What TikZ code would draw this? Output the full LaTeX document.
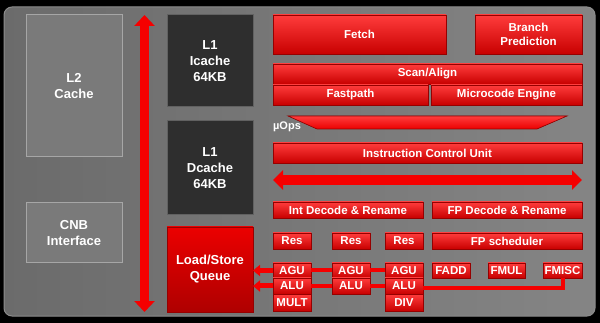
\documentclass[tikz,border=0pt]{standalone}
\usepackage{fontspec}
\setmainfont{Liberation Sans}
\usetikzlibrary{arrows.meta,positioning,calc}
\definecolor{rojoBloque}{RGB}{235,0,0}
\definecolor{rojoBorde}{RGB}{150,0,0}
\definecolor{rojoClaro}{RGB}{255,60,60}
\definecolor{rojoCola}{RGB}{205,0,0}
\definecolor{rojoBus}{RGB}{245,0,0}
\tikzset{
  rblock/.style={rectangle, draw=rojoBorde, line width=0.8pt,
                 top color=rojoClaro, middle color=rojoBloque, bottom color=rojoBloque!85!black,
                 text=white, font=\bfseries\fontsize{11.5}{13}\selectfont,
                 inner sep=0pt, outer sep=0pt, align=center, anchor=north west},
  gblock/.style={rectangle, draw=black!35, line width=1pt, fill=black!52,
                 text=white, font=\bfseries\fontsize{13}{16}\selectfont,
                 inner sep=0pt, outer sep=0pt, align=center, anchor=north west},
  dblock/.style={gblock, draw=black!62, fill=black!82},
  qblock/.style={rblock, top color=rojoBloque, middle color=rojoCola, bottom color=rojoCola!85!black,
                 font=\bfseries\fontsize{13}{16}\selectfont},
  bus/.style={draw=rojoBus, line width=9pt,
              {Triangle[width=20pt,length=11pt]}-{Triangle[width=20pt,length=11pt]}},
  toqueue/.style={draw=rojoBus, line width=5pt, -{Triangle[width=11pt,length=7pt]}},
  link/.style={draw=rojoBus, line width=4pt},
}
\begin{document}
\begin{tikzpicture}[x=1pt, y=-1pt, node distance=0pt]
  % fondo y panel
  \fill[black] (0,0) rectangle (600,323);
  \useasboundingbox (0,0) rectangle (600,323);
  \path[rounded corners=8pt, left color=black!58, middle color=black!80, right color=black!48,
        draw=black!45, line width=1pt] (4,7) rectangle (595,316);

  % caches e interfaz
  \node[gblock, minimum width=96pt, minimum height=142pt] (l2) at (26,15) {L2\\Cache};
  \node[gblock, minimum width=96pt, minimum height=60pt] (cnb) at (26,203) {CNB\\Interface};
  \node[dblock, minimum width=86pt, minimum height=92pt] (icache) at (167,15) {L1\\Icache\\64KB};
  \node[dblock, minimum width=86pt, minimum height=94pt] (dcache) at (167,121) {L1\\Dcache\\64KB};
  \node[qblock, minimum width=86pt, minimum height=85pt] (lsq) at (167,227) {Load/Store\\Queue};

  % bus vertical
  \coordinate (bustop) at (144.5,15);
  \coordinate (busbot) at (144.5,312);
  \draw[bus] (bustop) -- (busbot);

  % frontal
  \node[rblock, minimum width=173pt, minimum height=39pt] (fetch) at (273,15) {Fetch};
  \node[rblock, minimum width=107pt, minimum height=39pt, font=\bfseries\fontsize{11.5}{14}\selectfont]
    (bp) at (475,15) {Branch\\Prediction};
  \node[rblock, minimum width=309pt, minimum height=20pt] (scan) at (273,64) {Scan/Align};
  \node[rblock, minimum width=155pt, minimum height=20pt] (fast) at (273,85) {Fastpath};
  \node[rblock, minimum width=151pt, minimum height=20pt] (mcode) at (431,85) {Microcode Engine};

  % banda de uops
  \filldraw[draw=rojoBorde, line width=0.6pt, top color=rojoClaro, bottom color=rojoBloque]
    (288,116) -- (567,116) -- (537,129) -- (317,129) -- cycle;
  \node[text=white, font=\bfseries\fontsize{11}{13}\selectfont, inner sep=0pt] (uops) at (287,127) {µOps};

  \node[rblock, minimum width=309pt, minimum height=20pt] (icu) at (273,143) {Instruction Control Unit};
  \coordinate (dispL) at (273,180);
  \coordinate (dispR) at (582,180);
  \draw[bus, line width=10pt, {Triangle[width=19pt,length=10pt]}-{Triangle[width=19pt,length=10pt]}]
    (dispL) -- (dispR);

  % decodificacion y planificadores
  \node[rblock, minimum width=150pt, minimum height=16pt] (intdec) at (273,202) {Int Decode \& Rename};
  \node[rblock, minimum width=150pt, minimum height=16pt] (fpdec) at (432,202) {FP Decode \& Rename};
  \node[rblock, minimum width=38pt, minimum height=16pt] (res1) at (273,233) {Res};
  \node[rblock, minimum width=38pt, minimum height=16pt] (res2) at (332,233) {Res};
  \node[rblock, minimum width=38pt, minimum height=16pt] (res3) at (385,233) {Res};
  \node[rblock, minimum width=150pt, minimum height=16pt] (fpsch) at (432,233) {FP scheduler};

  % unidades de ejecucion
  \node[rblock, minimum width=38pt, minimum height=15pt] (agu1) at (273,263) {AGU};
  \node[rblock, minimum width=38pt, minimum height=16pt, below=of agu1.south west, anchor=north west] (alu1) {ALU};
  \node[rblock, minimum width=38pt, minimum height=17pt, below=of alu1.south west, anchor=north west] (mult) {MULT};
  \node[rblock, minimum width=38pt, minimum height=15pt] (agu2) at (332,263) {AGU};
  \node[rblock, minimum width=38pt, minimum height=16pt, below=of agu2.south west, anchor=north west] (alu2) {ALU};
  \node[rblock, minimum width=38pt, minimum height=15pt] (agu3) at (385,263) {AGU};
  \node[rblock, minimum width=38pt, minimum height=16pt, below=of agu3.south west, anchor=north west] (alu3) {ALU};
  \node[rblock, minimum width=38pt, minimum height=17pt, below=of alu3.south west, anchor=north west] (div) {DIV};
  \node[rblock, minimum width=38pt, minimum height=15pt] (fadd) at (432,263) {FADD};
  \node[rblock, minimum width=37pt, minimum height=15pt] (fmul) at (488,263) {FMUL};
  \node[rblock, minimum width=39pt, minimum height=15pt] (fmisc) at (543,263) {FMISC};

  % conexiones
  \draw[toqueue] (agu1.west) -- (lsq.east |- agu1.west);
  \draw[toqueue] (alu1.west) -- (lsq.east |- alu1.west);
  \draw[link] (agu2.west) -- (agu1.east);
  \draw[link] (alu2.west) -- (alu1.east);
  \draw[link] (agu3.west) -- (agu2.east);
  \draw[link] (alu3.west) -- (alu2.east);
  \draw[link] (fmisc.south) |- ($(alu3.east)+(0,2)$);
\end{tikzpicture}
\end{document}
